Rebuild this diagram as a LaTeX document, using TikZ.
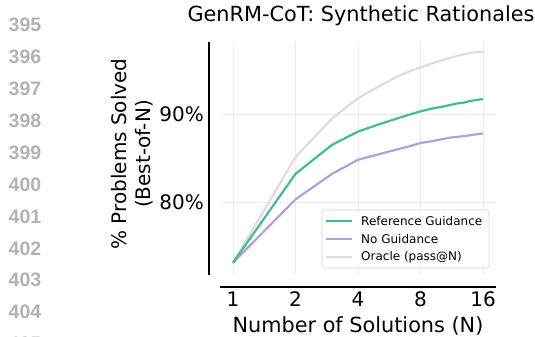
\documentclass[tikz,border=0pt]{standalone}
\usepackage{fontspec}
\setmainfont{DejaVu Sans}
\newfontfamily\marginfont{Liberation Sans}
\definecolor{refGreen}{RGB}{64,190,145}
\definecolor{noPurple}{RGB}{178,160,220}
\definecolor{oracleGray}{RGB}{221,221,221}
\definecolor{gridGray}{RGB}{236,236,236}
\definecolor{lineNumGray}{RGB}{178,178,178}

\begin{document}
\begin{tikzpicture}[x=1pt,y=-1pt,%%
  spineStyle/.style={-,line width=2.4pt,black},%%
  gridStyle/.style={-,line width=0.8pt,gridGray},%%
  curveStyle/.style={-,line width=2.2pt,line join=round},%%
  tickLabel/.style={inner sep=0pt,font=\fontsize{20}{24}\selectfont},%%
  axisLabel/.style={inner sep=0pt,font=\fontsize{20.8}{25}\selectfont},%%
  lineNum/.style={inner sep=0pt,text=lineNumGray,font=\marginfont\bfseries\fontsize{19.5}{22}\selectfont},%%
  legendText/.style={inner sep=0pt,anchor=west,font=\fontsize{12}{14}\selectfont},%%
  declare function={px(\n)=233+62.5*ln(\n)/ln(2); py(\v)=114+(90-\v)*8.8;}
]
\useasboundingbox (0,0) rectangle (535,337);
%%
%% Line numbers in the margin.
\foreach \k in {394,...,405}
  \node[lineNum] (num\k) at (25,{25+31.9*(\k-395)}) {\k};
%%
%% Grid.
\foreach \n in {1,2,4,8,16}
  \draw[gridStyle] ({px(\n)},42) -- ({px(\n)},275);
\foreach \v in {80,90}
  \draw[gridStyle] (221,{py(\v)}) -- (496,{py(\v)});
%%
%% Spines, offset from the plot area.
\draw[spineStyle] (209,42) -- (209,275);
\draw[spineStyle] (220,287) -- (496,287);
%%
%% Tick labels.
\foreach \n in {1,2,4,8,16}
  \node[tickLabel] (xt\n) at ({px(\n)},299.5) {\n};
\foreach \v in {80,90}
  \node[tickLabel,anchor=east] (yt\v) at (204,{py(\v)}) {\v\%};
%%
%% Curves.
\draw[curveStyle,oracleGray] ({px(1)},{py(73.1)})
  \foreach \n/\v in {2/85.1,3/89.5,4/91.8,5/93.1,6/94.1,7/94.8,8/95.3,9/95.7,10/96.05,11/96.35,12/96.6,13/96.8,14/96.95,15/97.05,16/97.1}
  { -- ({px(\n)},{py(\v)}) };
\draw[curveStyle,noPurple] ({px(1)},{py(73.1)})
  \foreach \n/\v in {2/80.3,3/83.2,4/84.8,5/85.4,6/85.9,7/86.3,8/86.7,9/86.9,10/87.1,11/87.3,12/87.4,13/87.5,14/87.6,15/87.7,16/87.8}
  { -- ({px(\n)},{py(\v)}) };
\draw[curveStyle,refGreen] ({px(1)},{py(73.1)})
  \foreach \n/\v in {2/83.2,3/86.5,4/88.0,5/88.8,6/89.4,7/89.9,8/90.3,9/90.6,10/90.8,11/91.0,12/91.2,13/91.3,14/91.5,15/91.6,16/91.7}
  { -- ({px(\n)},{py(\v)}) };
%%
%% Legend.
\draw[rounded corners=3pt,line width=0.6pt,draw=black!18,fill=white,fill opacity=0.85]
  (322,210) rectangle (489,268);
\draw[curveStyle,refGreen] (326,221) -- (352,221);
\draw[curveStyle,noPurple] (326,239) -- (352,239);
\draw[curveStyle,oracleGray] (326,257) -- (352,257);
\node[legendText] (legRef) at (361,221) {Reference Guidance};
\node[legendText] (legNo) at (361,239) {No Guidance};
\node[legendText] (legOracle) at (361,257) {Oracle (pass@N)};
%%
%% Titles.
\node[axisLabel] (title) at (361,16) {GenRM-CoT: Synthetic Rationales};
\node[axisLabel] (xlabel) at (358,326) {Number of Solutions (N)};
\node[tickLabel,rotate=90,align=center] (ylabel) at (132,154)
  {\% Problems Solved\\(Best-of-N)};
\end{tikzpicture}
\end{document}
